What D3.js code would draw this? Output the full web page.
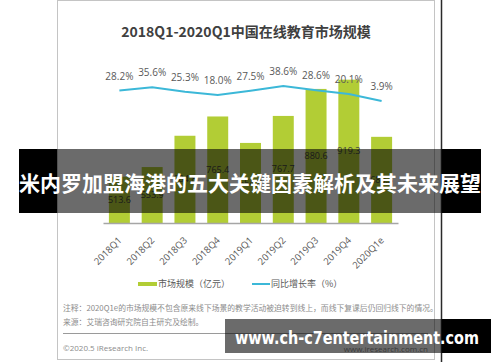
<!DOCTYPE html>
<html><head><meta charset="utf-8">
<script src="https://cdn.jsdelivr.net/npm/d3@7/dist/d3.min.js"></script>
<style>html,body{margin:0;padding:0;background:#fff;}svg{display:block;}</style>
</head><body>
<script>
const categories = ["2018Q1","2018Q2","2018Q3","2018Q4","2019Q1","2019Q2","2019Q3","2019Q4","2020Q1e"];
const marketSize = [513.6, 553.9, 684.8, 765.4, 654.8, 767.7, 880.6, 919.3, 680.3];
const growthRate = [28.2, 35.6, 25.3, 18.0, 27.5, 38.6, 28.6, 20.1, 3.9];
const rateLabels = ["28.2%","35.6%","25.3%","18.0%","27.5%","38.6%","28.6%","20.1%","3.9%"];
const legendNames = ["市场规模（亿元）","同比增长率（%）"];
const titleText = "2018Q1-2020Q1中国在线教育市场规模";
const noteText = "注释：2020Q1e的市场规模不包含原来线下场景的教学活动被迫转到线上，而线下复课后仍回归线下的情况。";
const sourceText = "来源：艾瑞咨询研究院自主研究及绘制。";
const copyText = "©2020.5 iResearch Inc.";
const urlText = "www.iresearch.com.cn";
const bannerText = "米内罗加盟海港的五大关键因素解析及其未来展望";
const watermarkText = "www.ch-c7entertainment.com";

const W = 500, H = 362;
const svg = d3.select("body").append("svg").attr("width", W).attr("height", H);
const latin = "'Open Sans','Noto Sans CJK SC',sans-serif";
const cjk = "'Noto Sans CJK SC','Open Sans',sans-serif";

// panel
svg.append("rect").attr("x",57.5).attr("y",0.5).attr("width",377).attr("height",359)
  .attr("fill","#fff").attr("stroke","#c4c4c4").attr("stroke-width",1);
svg.append("line").attr("x1",441.5).attr("x2",441.5).attr("y1",0).attr("y2",H)
  .attr("stroke","#2a2a2a").attr("stroke-width",1.5);

// title
svg.append("text").attr("x",246).attr("y",37).attr("text-anchor","middle")
  .attr("font-family",cjk).attr("font-weight","bold").attr("font-size",14)
  .attr("fill","#404040").text(titleText);

const x = d3.scaleBand().domain(categories).range([103,398]).paddingInner(0.36).paddingOuter(0.18);
const y = d3.scaleLinear().domain([320,920]).range([223,79.5]);
const yr = d3.scaleLinear().domain([0,40]).range([102.7,85.4]);

// bars
svg.append("g").selectAll("rect").data(marketSize).join("rect")
  .attr("x",(d,i)=>x(categories[i])).attr("width",x.bandwidth())
  .attr("y",d=>y(d)).attr("height",d=>y.range()[0]-y(d)).attr("fill","#b2cd35");
svg.append("g").selectAll("text").data(marketSize).join("text")
  .attr("x",(d,i)=>x(categories[i])+x.bandwidth()/2)
  .attr("y",d=>(y(d)+y.range()[0])/2+3)
  .attr("text-anchor","middle").attr("font-family",latin).attr("font-size",9)
  .attr("fill","#404040").text(d=>d.toFixed(1));

// axis
const xAxis = svg.append("g").attr("transform","translate(0,223)")
  .call(d3.axisBottom(x).tickSize(0).tickPadding(0));
xAxis.select(".domain").attr("stroke","#a6a6a6").attr("stroke-width",1.5);
xAxis.selectAll(".tick text").attr("font-family",latin).attr("font-size",9.5).attr("fill","#595959")
  .attr("text-anchor","end").attr("dy",0).attr("y",0)
  .attr("transform","translate(3,18) rotate(-45)");

// line
const line = d3.line().x((d,i)=>x(categories[i])+x.bandwidth()/2).y(d=>yr(d));
svg.append("path").datum(growthRate).attr("d",line).attr("fill","none")
  .attr("stroke","#3cb8d8").attr("stroke-width",2);
svg.append("g").selectAll("text").data(growthRate).join("text")
  .attr("x",(d,i)=>x(categories[i])+x.bandwidth()/2).attr("y",d=>yr(d)-11)
  .attr("text-anchor","middle").attr("font-family",latin).attr("font-size",10)
  .attr("fill","#595959").text((d,i)=>rateLabels[i]);

// legend
svg.append("rect").attr("x",138).attr("y",282).attr("width",19).attr("height",4).attr("fill","#b2cd35");
svg.append("text").attr("x",158).attr("y",287.3).attr("font-family",cjk).attr("font-size",9)
  .attr("fill","#595959").text(legendNames[0]);
svg.append("line").attr("x1",252).attr("x2",270).attr("y1",284).attr("y2",284)
  .attr("stroke","#3cb8d8").attr("stroke-width",2);
svg.append("text").attr("x",271).attr("y",287.3).attr("font-family",cjk).attr("font-size",9)
  .attr("fill","#595959").text(legendNames[1]);

// notes
svg.append("text").attr("x",63).attr("y",311).attr("font-family",cjk).attr("font-size",7.8)
  .attr("fill","#8c8c8c").text(noteText);
svg.append("text").attr("x",63).attr("y",325).attr("font-family",cjk).attr("font-size",7.8)
  .attr("fill","#8c8c8c").text(sourceText);
svg.append("line").attr("x1",63).attr("x2",428).attr("y1",333.5).attr("y2",333.5)
  .attr("stroke","#9a9a9a").attr("stroke-width",1);
svg.append("text").attr("x",63).attr("y",351).attr("font-family",latin).attr("font-size",8)
  .attr("fill","#8c8c8c").text(copyText);
svg.append("text").attr("x",428).attr("y",352).attr("text-anchor","end").attr("font-family",latin).attr("font-size",8)
  .attr("fill","#8c8c8c").text(urlText);

// banner overlay
svg.append("rect").attr("x",19).attr("y",149).attr("width",38).attr("height",64).attr("fill","#000");
svg.append("rect").attr("x",57).attr("y",149).attr("width",385).attr("height",64).attr("fill","rgba(0,0,0,0.58)");
svg.append("rect").attr("x",442).attr("y",149).attr("width",39).attr("height",64).attr("fill","#000");
svg.append("text").attr("x",250).attr("y",190.5).attr("text-anchor","middle")
  .attr("font-family",cjk).attr("font-weight","bold").attr("font-size",21)
  .attr("fill","#fff").text(bannerText);

// watermark
svg.append("rect").attr("x",225).attr("y",319).attr("width",217).attr("height",34).attr("fill","rgba(0,0,0,0.58)");
svg.append("rect").attr("x",442).attr("y",319).attr("width",49).attr("height",34).attr("fill","#000");
svg.append("text").attr("x",235).attr("y",343.5)
  .attr("font-family","'DejaVu Sans',sans-serif").attr("font-weight","bold").attr("font-size",17)
  .attr("textLength",244).attr("lengthAdjust","spacingAndGlyphs")
  .attr("fill","#fff").text(watermarkText);
</script>
</body></html>
